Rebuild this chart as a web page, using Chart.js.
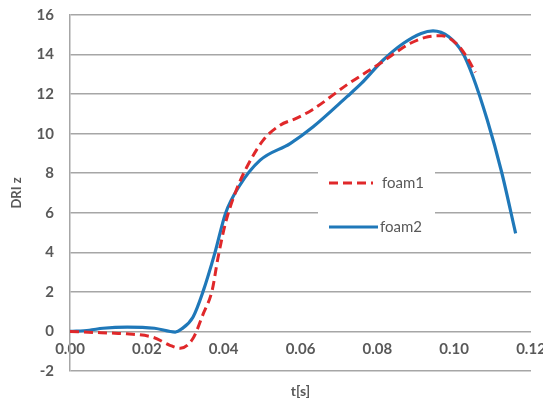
<!DOCTYPE html>
<html>
<head>
<meta charset="utf-8">
<script src="https://cdn.jsdelivr.net/npm/chart.js@4.4.0/dist/chart.umd.min.js"></script>
<style>
  html, body { margin: 0; padding: 0; background: #fff; overflow: hidden; }
  #wrap { width: 560px; height: 407px; }
</style>
</head>
<body>
<div id="wrap"><canvas id="dri" width="560" height="407"></canvas></div>
<script>
// FOAM1 (red dashed)
const tFoam1 = [0, 0.006, 0.0105, 0.0148, 0.0217, 0.026, 0.0287, 0.032, 0.0347, 0.037,
    0.0385, 0.0405, 0.0432, 0.046, 0.0503, 0.0547, 0.0586, 0.0630, 0.0723, 0.0807,
    0.0886, 0.0932, 0.0968, 0.1005, 0.1032, 0.1055];
const foam1 = [0, -0.05, -0.08, -0.12, -0.3, -0.7, -0.85, -0.36, 0.9, 2.07,
    3.7, 5.5, 7.1, 8.3, 9.67, 10.43, 10.75, 11.2, 12.5, 13.55,
    14.57, 14.9, 14.95, 14.57, 13.9, 13.1];

// FOAM2 (blue solid)
const tFoam2 = [0, 0.005, 0.0086, 0.0149, 0.022, 0.0274, 0.029, 0.032, 0.0346, 0.0377, 0.0405,
    0.044, 0.0495, 0.0573, 0.0633, 0.0721, 0.0759, 0.0814, 0.0868, 0.0914,
    0.0945, 0.0986, 0.1023, 0.1049, 0.1086, 0.1123, 0.116];
const foam2 = [0, 0.06, 0.16, 0.22, 0.16, -0.03, 0.12, 0.72, 2.0, 3.96, 5.98,
    7.33, 8.66, 9.5, 10.35, 11.87, 12.55, 13.7, 14.57, 15.07,
    15.2, 14.9, 14.06, 12.88, 10.7, 8.1, 4.96];

const yTicks = [-2, 0, 2, 4, 6, 8, 10, 12, 14, 16];
const xTicks = [0, 0.02, 0.04, 0.06, 0.08, 0.10, 0.12];

const toPoints = (ts, vs) => ts.map((t, i) => ({ x: t, y: vs[i] }));

const textColor = '#595959';
const gridColor = '#a6a6a6';
const fontFamily = 'Lato, "Liberation Sans", sans-serif';

// legend drawn inside the plot, like the Excel original
const insideLegend = {
    id: 'insideLegend',
    afterDatasetsDraw(chart) {
        const c = chart.ctx;
        c.save();
        c.fillStyle = '#ffffff';
        c.fillRect(318, 160, 117, 86);
        const rows = [183, 227];
        chart.data.datasets.forEach((ds, i) => {
            const y = rows[i];
            c.strokeStyle = ds.borderColor;
            c.lineWidth = ds.borderWidth;
            c.setLineDash(ds.borderDash || []);
            c.beginPath();
            c.moveTo(329, y);
            c.lineTo(i === 0 ? 373 : 378, y);
            c.stroke();
            c.setLineDash([]);
            c.fillStyle = textColor;
            c.font = '15px ' + fontFamily;
            c.textBaseline = 'middle';
            c.fillText(ds.label, i === 0 ? 382 : 380, y);
        });
        c.restore();
    }
};

new Chart(document.getElementById('dri').getContext('2d'), {
    type: 'line',
    data: {
        datasets: [{
            label: 'foam1',
            data: toPoints(tFoam1, foam1),
            borderColor: '#e0282a',
            borderWidth: 3,
            borderDash: [9, 5],
            pointRadius: 0,
            cubicInterpolationMode: 'monotone',
            fill: false
        }, {
            label: 'foam2',
            data: toPoints(tFoam2, foam2),
            borderColor: '#1f78b9',
            borderWidth: 3.2,
            pointRadius: 0,
            cubicInterpolationMode: 'monotone',
            fill: false
        }]
    },
    plugins: [insideLegend],
    options: {
        responsive: false,
        animation: false,
        layout: {
            padding: { top: 15, right: 29, left: 0, bottom: 0 }
        },
        plugins: {
            legend: { display: false },
            tooltip: { enabled: false }
        },
        scales: {
            x: {
                type: 'linear',
                position: 'bottom',
                min: 0,
                max: 0.12,
                grid: { display: false },
                border: { display: false },
                ticks: { display: false },
                title: {
                    display: true,
                    text: 't[s]',
                    color: textColor,
                    font: { family: fontFamily, size: 14, weight: 'bold' },
                    padding: { top: 0, bottom: 7 }
                },
                afterFit(scale) { scale.height = 36; }
            },
            x2: {
                type: 'linear',
                position: { y: 0 },
                min: 0,
                max: 0.12,
                grid: { display: false, drawTicks: false },
                border: { display: false },
                afterBuildTicks(scale) { scale.ticks = xTicks.map(v => ({ value: v })); },
                ticks: {
                    padding: 9,
                    color: textColor,
                    maxRotation: 0,
                    font: { family: fontFamily, size: 15, weight: 'bold' },
                    callback: v => v.toFixed(2)
                }
            },
            y: {
                min: -2,
                max: 16,
                afterBuildTicks(scale) { scale.ticks = yTicks.map(v => ({ value: v })); },
                grid: {
                    color: gridColor,
                    lineWidth: 1.5,
                    drawTicks: true,
                    tickLength: 13,
                    tickColor: 'rgba(0,0,0,0)'
                },
                border: { display: true, color: gridColor, width: 1.5 },
                ticks: {
                    padding: 3,
                    color: textColor,
                    font: { family: fontFamily, size: 15, weight: 'bold' }
                },
                title: {
                    display: true,
                    text: 'DRI z',
                    color: textColor,
                    font: { family: fontFamily, size: 13, weight: 'bold' },
                    padding: { top: 9, bottom: 0 }
                },
                afterFit(scale) { scale.width = 70; }
            }
        }
    }
});
</script>
</body>
</html>
